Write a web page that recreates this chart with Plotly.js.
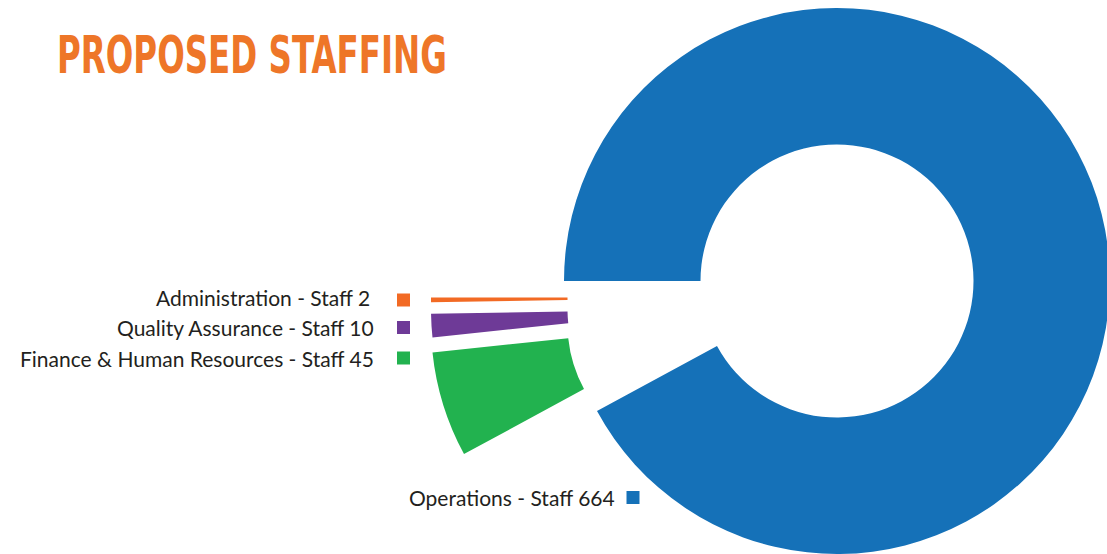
<!DOCTYPE html>
<html>
<head>
<meta charset="utf-8">
<script src="https://cdn.plot.ly/plotly-3.0.1.min.js"></script>
<style>
  html, body { margin: 0; padding: 0; width: 1107px; height: 554px; overflow: hidden; background: #ffffff; }
  #chart { position: absolute; left: -60px; top: -60px; }
</style>
</head>
<body>
<div id="chart"></div>
<script>
// ---- data ----
const categories = ['Operations', 'Finance & Human Resources', 'Quality Assurance', 'Administration'];
const staff = [664, 45, 10, 2];
const labelPrefix = ' - Staff ';
const titleText = 'PROPOSED STAFFING';

// ---- styles ----
const colors = ['#1571B8', '#22B24F', '#6E3A97', '#F26A24'];
const textColor = '#231F20';
const titleColor = '#EE7628';

// ---- layout geometry (screen pixels) ----
const P = 60, VW = 1107, VH = 554, W = VW + 2 * P, H = VH + 2 * P;
const R = 273, HOLE = 0.5;
const sliceCenters = [[837, 281], [704, 324], [704, 309], [704, 297.5]];
const labelAnchors = [[617, 497], [376, 358.5], [376, 327.5], [372, 297.5]];
const keyCenters = [[633, 497.5], [403.5, 358], [403.5, 327.5], [403.5, 300]];
const KEY = 13;
const TITLE_LEFT = 57, TITLE_WIDTH = 390;

function px2x(x) { return (x + P) / W; }
function px2y(y) { return (H - (y + P)) / H; }
function dom(cx, cy, r) {
  return { x: [px2x(cx - r), px2x(cx + r)], y: [px2y(cy + r), px2y(cy - r)] };
}

const traces = categories.map((c, i) => ({
  type: 'pie',
  labels: categories,
  values: staff,
  sort: false,
  direction: 'clockwise',
  rotation: -90,
  hole: HOLE,
  domain: dom(sliceCenters[i][0], sliceCenters[i][1], R),
  marker: {
    colors: categories.map((_, j) => (j === i ? colors[j] : 'rgba(0,0,0,0)')),
    line: { width: 0 }
  },
  textinfo: 'none',
  hoverinfo: 'none',
  showlegend: false
}));

const annotations = categories.map((c, i) => ({
  xref: 'paper', yref: 'paper',
  x: px2x(labelAnchors[i][0]), y: px2y(labelAnchors[i][1]),
  xanchor: 'right', yanchor: 'middle',
  text: c + labelPrefix + staff[i],
  showarrow: false,
  font: { family: 'Lato, "Open Sans", sans-serif', size: 21, color: textColor }
}));

const shapes = categories.map((c, i) => ({
  type: 'rect', xref: 'paper', yref: 'paper',
  x0: px2x(keyCenters[i][0] - KEY / 2), x1: px2x(keyCenters[i][0] + KEY / 2),
  y0: px2y(keyCenters[i][1] + KEY / 2), y1: px2y(keyCenters[i][1] - KEY / 2),
  fillcolor: colors[i], line: { width: 0 }
}));

const layout = {
  width: W, height: H,
  margin: { l: 0, r: 0, t: 0, b: 0 },
  paper_bgcolor: '#ffffff',
  showlegend: false,
  title: {
    text: '<b>' + titleText + '</b>',
    xref: 'paper', yref: 'paper',
    x: px2x(TITLE_LEFT), y: px2y(55),
    xanchor: 'left', yanchor: 'middle',
    font: { family: '"DejaVu Sans", sans-serif', size: 52, color: titleColor }
  },
  annotations: annotations,
  shapes: shapes
};

function condenseTitle() {
  const t = document.querySelector('.gtitle');
  if (!t) return;
  t.removeAttribute('transform');
  const bb = t.getBBox();
  if (!bb.width) return;
  const s = TITLE_WIDTH / bb.width;
  const ox = bb.x;
  t.setAttribute('transform', 'translate(' + (ox * (1 - s)) + ',0) scale(' + s + ',1)');
}

Plotly.newPlot('chart', traces, layout, { displayModeBar: false, staticPlot: true }).then(condenseTitle);
</script>
</body>
</html>
